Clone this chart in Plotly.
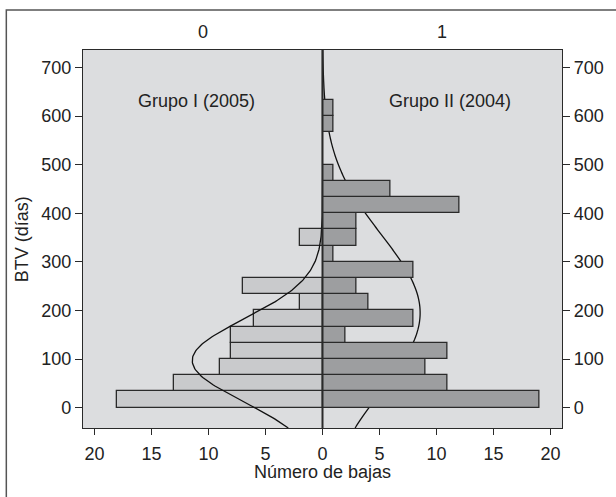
import numpy as np
import plotly.graph_objects as go

# ---------------- data ----------------
bin_width = 100 / 3  # days per bin
bin_lower = [0, 33.3, 66.7, 100, 133.3, 166.7, 200, 233.3, 266.7, 300,
             333.3, 366.7, 400, 433.3, 466.7, 500, 533.3, 566.7, 600]
grupo1_counts = [18, 13, 9, 8, 8, 6, 2, 7, 0, 0, 2, 0, 0, 0, 0, 0, 0, 0, 0]
grupo2_counts = [19, 11, 9, 11, 2, 8, 4, 3, 8, 1, 3, 3, 12, 6, 1, 0, 0, 1, 1]

# fitted normal curves (parameters)
grupo1_mean, grupo1_sd = 97, 85
grupo2_mean, grupo2_sd = 195, 160

panel_labels = ["0", "1"]
group_labels = ["Grupo I (2005)", "Grupo II (2004)"]
x_ticks = [0, 5, 10, 15, 20]
y_ticks = [0, 100, 200, 300, 400, 500, 600, 700]

# ---------------- styling ----------------
FONT = "Liberation Sans, Arial, sans-serif"
FS = 18
TXT = "#222222"
BG = "#dcdddf"
LEFT_BAR = "#c9cacc"
RIGHT_BAR = "#9d9ea0"
EDGE = "#2a2a2a"

W, H = 616, 497
ML, MR, MT, MB = 83, 52, 50, 69
PW, PH = W - ML - MR, H - MT - MB
yr = [-42, 736]


def px2paper_x(px):
    return (px - ML) / PW


def px2paper_y(py):
    return (H - MB - py) / PH


def nz(counts):
    ys = [lo + bin_width / 2 for lo, c in zip(bin_lower, counts) if c > 0]
    xs = [c for c in counts if c > 0]
    return xs, ys


def normal_curve(counts, mean, sd):
    n = sum(counts)
    yy = np.linspace(yr[0], yr[1], 300)
    xx = n * bin_width * np.exp(-0.5 * ((yy - mean) / sd) ** 2) / (sd * np.sqrt(2 * np.pi))
    return xx, yy


fig = go.Figure()

# left panel: bars, then curve on top
x1, y1 = nz(grupo1_counts)
fig.add_trace(go.Bar(x=x1, y=y1, orientation="h", width=bin_width,
                     marker=dict(color=LEFT_BAR, line=dict(color=EDGE, width=1.3)),
                     xaxis="x", yaxis="y", showlegend=False))
cx, cy = normal_curve(grupo1_counts, grupo1_mean, grupo1_sd)
fig.add_trace(go.Scatter(x=cx, y=cy, mode="lines", line=dict(color="#111", width=1.3),
                         xaxis="x", yaxis="y", showlegend=False))

# right panel: bars on top of the curve (curve drawn as a below-layer path)
x2, y2 = nz(grupo2_counts)
fig.add_trace(go.Bar(x=x2, y=y2, orientation="h", width=bin_width,
                     marker=dict(color=RIGHT_BAR, line=dict(color=EDGE, width=1.3)),
                     xaxis="x2", yaxis="y2", showlegend=False))
cx2, cy2 = normal_curve(grupo2_counts, grupo2_mean, grupo2_sd)
path = "M " + " L ".join(f"{a:.4f},{b:.3f}" for a, b in zip(cx2, cy2))
fig.add_shape(type="path", path=path, xref="x2", yref="y2", layer="below",
              line=dict(color="#111", width=1.3))

axis_common = dict(showgrid=False, zeroline=False, showline=True, linecolor=EDGE,
                   linewidth=1.3, ticks="outside", tickcolor=EDGE, tickwidth=1.2,
                   tickfont=dict(family=FONT, size=FS, color=TXT))

fig.update_layout(
    width=W, height=H,
    margin=dict(l=ML, r=MR, t=MT, b=MB, pad=0),
    paper_bgcolor="white", plot_bgcolor=BG,
    bargap=0, barmode="overlay",
    xaxis=dict(domain=[0, 0.5], range=[21, 0], anchor="y", tickvals=x_ticks,
               ticklen=6, mirror=True, ticklabelstandoff=3, **axis_common),
    xaxis2=dict(domain=[0.5, 1], range=[0, 21], anchor="y2", tickvals=x_ticks[1:],
                ticklen=6, mirror=True, ticklabelstandoff=3, **axis_common),
    yaxis=dict(domain=[0, 1], range=yr, anchor="x", tickvals=y_ticks, ticklen=7,
               side="left", **axis_common),
    yaxis2=dict(domain=[0, 1], range=yr, anchor="x2", tickvals=y_ticks, ticklen=7,
                side="right", matches="y", **axis_common),
    font=dict(family=FONT, size=FS, color=TXT),
)

# centre line and outer frame
fig.add_shape(type="line", xref="paper", yref="paper", x0=0.5, x1=0.5, y0=0, y1=1,
              line=dict(color=EDGE, width=2), layer="above")
fig.add_shape(type="rect", xref="paper", yref="paper",
              x0=px2paper_x(6), x1=px2paper_x(640), y0=px2paper_y(10), y1=px2paper_y(520),
              line=dict(color="#555555", width=1.5), fillcolor="rgba(0,0,0,0)", layer="below")

ann = []
for lab, cxp in zip(panel_labels, [0.25, 0.75]):
    ann.append(dict(text=lab, x=cxp, y=px2paper_y(32), xref="paper", yref="paper",
                    showarrow=False, xanchor="center", yanchor="middle"))
ann.append(dict(text=group_labels[0], x=px2paper_x(197), y=px2paper_y(101), xref="paper",
                yref="paper", showarrow=False, xanchor="center", yanchor="middle"))
ann.append(dict(text=group_labels[1], x=px2paper_x(452), y=px2paper_y(101), xref="paper",
                yref="paper", showarrow=False, xanchor="center", yanchor="middle"))
ann.append(dict(text="Número de bajas", x=0.5, y=px2paper_y(472), xref="paper", yref="paper",
                showarrow=False, xanchor="center", yanchor="middle", borderpad=0))
ann.append(dict(text="BTV (días)", x=px2paper_x(22), y=0.5, xref="paper", yref="paper",
                showarrow=False, xanchor="center", yanchor="middle", textangle=-90))
fig.update_layout(annotations=ann)

fig.write_html("out.html", config={"displayModeBar": False},
               post_script="document.body.style.margin='0';")
